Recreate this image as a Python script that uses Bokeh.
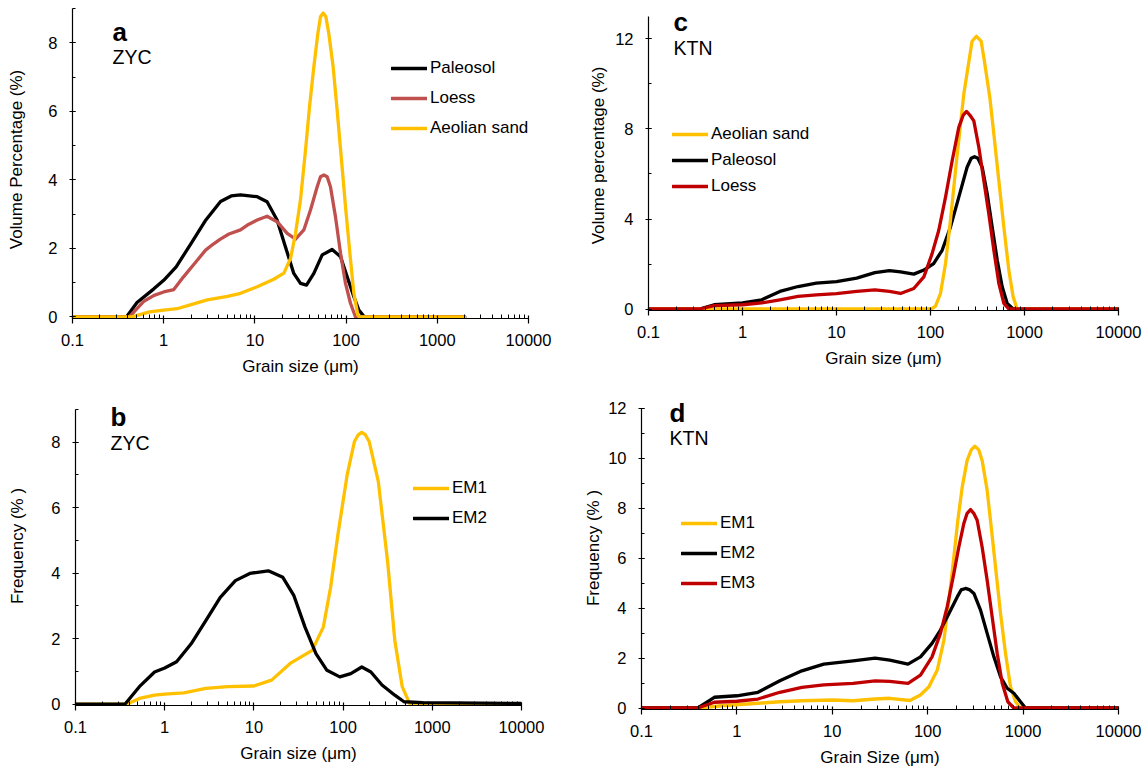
from bokeh.plotting import figure
from bokeh.models import (Range1d, FixedTicker, SingleIntervalTicker, CustomJSTickFormatter,
                          Legend, LegendItem, Label)
from bokeh.layouts import column, row
from bokeh.embed import file_html
from bokeh.resources import INLINE

# ---------------- data ----------------
# Panel a, ZYC
a_x_paleo = [0.1, 0.39, 0.51, 0.78, 1.0, 1.37, 2.0, 2.9, 4.2, 5.5, 6.95, 10.6, 13.6, 17.5, 21.6, 26.7, 31.6, 36.8, 44.3, 54.7, 70.3, 86.9, 102.8, 121.6, 138, 159, 2000]
a_y_paleo = [0, 0, 0.42, 0.82, 1.07, 1.46, 2.15, 2.83, 3.37, 3.53, 3.56, 3.51, 3.36, 2.83, 2.05, 1.27, 0.98, 0.93, 1.27, 1.81, 1.97, 1.76, 1.17, 0.59, 0.2, 0, 0]
a_x_loess = [0.1, 0.42, 0.6, 0.785, 1.0, 1.29, 1.65, 2.18, 2.88, 3.47, 4.18, 5.2, 6.95, 8.5, 10.6, 13.6, 17.5, 22.6, 27.9, 34.4, 40.7, 48.2, 52.4, 57, 62, 67.4, 76.5, 86.9, 98.5, 111.7, 126.7, 2000]
a_y_loess = [0, 0, 0.45, 0.63, 0.73, 0.8, 1.17, 1.56, 1.95, 2.12, 2.27, 2.42, 2.54, 2.7, 2.83, 2.94, 2.78, 2.44, 2.27, 2.54, 3.12, 3.8, 4.09, 4.14, 4.09, 3.8, 2.92, 1.86, 0.98, 0.4, 0, 0]
a_x_aeol = [0.1, 0.45, 0.7, 1.0, 1.4, 2.0, 3.0, 5.0, 6.95, 10.6, 16.1, 20.8, 24.6, 27.9, 31.6, 35.9, 39.7, 44.3, 49, 52.4, 56.1, 60, 64.6, 72.1, 79.8, 89, 98.5, 110, 121.6, 134.4, 140, 2000]
a_y_aeol = [0, 0, 0.15, 0.2, 0.24, 0.36, 0.5, 0.6, 0.69, 0.88, 1.1, 1.28, 1.71, 2.44, 3.41, 4.87, 6.13, 7.3, 8.27, 8.76, 8.87, 8.76, 8.27, 7.3, 6.03, 4.58, 3.22, 1.86, 0.69, 0.06, 0, 0]

# Panel b, ZYC end members
b_x_em1 = [0.1, 0.38, 0.52, 0.77, 1.0, 1.64, 2.89, 5.1, 10, 15.8, 25.5, 45, 60, 72.4, 87.5, 111, 134, 147.5, 162, 178, 196, 248, 315, 380, 460, 556, 10000]
b_y_em1 = [0, 0, 0.17, 0.27, 0.3, 0.34, 0.48, 0.53, 0.55, 0.73, 1.24, 1.64, 2.35, 3.56, 5.18, 7.0, 8.02, 8.22, 8.3, 8.22, 8.02, 6.8, 4.37, 1.94, 0.53, 0.02, 0]
b_x_em2 = [0.1, 0.36, 0.52, 0.77, 1.0, 1.36, 1.98, 2.89, 4.2, 6.2, 9.0, 14.5, 21.1, 28.1, 37.4, 49.6, 65.9, 91.8, 122, 162, 205, 273, 380, 482, 774, 10000]
b_y_em2 = [0, 0, 0.53, 0.98, 1.1, 1.29, 1.84, 2.55, 3.26, 3.77, 3.99, 4.07, 3.87, 3.31, 2.35, 1.54, 1.03, 0.83, 0.93, 1.13, 0.98, 0.58, 0.27, 0.07, 0.04, 0.02]

# Panel c, KTN
c_x_aeol = [0.1, 101.6, 113, 127.7, 144.5, 163, 184.5, 205, 226, 256, 277, 308, 346, 375, 428, 472, 533, 603, 681, 757, 835, 10000]
c_y_aeol = [0, 0, 0.13, 0.69, 2.02, 3.94, 6.15, 7.92, 9.54, 11.0, 11.9, 12.12, 11.9, 11.0, 9.39, 7.77, 5.71, 3.64, 1.73, 0.54, 0, 0]
c_x_paleo = [0.1, 0.35, 0.5, 1.0, 1.6, 2.5, 3.9, 6.1, 10, 16.4, 25.6, 36.6, 48, 66.4, 85, 108, 133, 163, 200, 245, 271, 294, 319, 355, 401, 453, 513, 579, 655, 757, 10000]
c_y_paleo = [0, 0, 0.19, 0.27, 0.41, 0.78, 1.0, 1.15, 1.22, 1.37, 1.62, 1.71, 1.65, 1.55, 1.73, 2.02, 2.61, 3.64, 4.97, 6.3, 6.7, 6.77, 6.7, 6.3, 5.12, 3.64, 2.17, 0.99, 0.25, 0, 0]
c_x_loess = [0.1, 0.35, 0.5, 1.0, 1.6, 2.5, 3.9, 6.1, 10, 16.4, 25.6, 36.6, 48, 66.4, 85, 104, 122.5, 144.5, 170, 200, 223, 241.5, 262, 289, 327, 369, 417, 472, 533, 603, 681, 10000]
c_y_loess = [0, 0, 0.15, 0.19, 0.27, 0.41, 0.56, 0.63, 0.68, 0.78, 0.85, 0.78, 0.69, 0.91, 1.43, 2.46, 3.5, 4.97, 6.59, 8.07, 8.62, 8.78, 8.62, 8.36, 7.18, 5.71, 4.23, 2.61, 1.14, 0.25, 0, 0]

# Panel d, KTN end members
d_x_em1 = [0.1, 0.40, 0.69, 1.0, 1.66, 2.82, 4.8, 10, 16.5, 28.1, 40, 65, 84, 103, 126, 148, 167, 188, 207, 230, 259, 286, 312, 343, 372, 420, 463, 514, 580, 654, 738, 832, 939, 10000]
d_y_em1 = [0, 0, 0.09, 0.13, 0.19, 0.25, 0.29, 0.32, 0.29, 0.36, 0.39, 0.3, 0.52, 0.85, 1.52, 2.72, 4.32, 6.05, 7.52, 8.85, 9.92, 10.34, 10.49, 10.34, 9.92, 8.72, 7.25, 5.65, 3.79, 2.19, 0.85, 0.25, 0, 0]
d_x_em2 = [0.1, 0.39, 0.58, 1.0, 1.66, 2.82, 4.8, 8.15, 16.5, 28.1, 40, 62.2, 84, 111, 136, 167, 204, 224, 249, 277, 305, 358, 420, 494, 580, 681, 800, 939, 1059, 10000]
d_y_em2 = [0, 0, 0.43, 0.49, 0.63, 1.09, 1.49, 1.76, 1.89, 2.0, 1.92, 1.76, 2.05, 2.59, 3.12, 3.79, 4.45, 4.73, 4.79, 4.73, 4.59, 3.92, 2.99, 2.05, 1.25, 0.79, 0.59, 0.25, 0, 0]
d_x_em3 = [0.1, 0.39, 0.58, 1.0, 1.66, 2.82, 4.8, 8.15, 16.5, 28.1, 40, 62.2, 84, 111, 136, 160, 188, 212, 239, 259, 281, 304, 330, 372, 420, 474, 535, 604, 692, 800, 10000]
d_y_em3 = [0, 0, 0.23, 0.27, 0.36, 0.63, 0.83, 0.93, 0.99, 1.09, 1.07, 0.99, 1.32, 2.05, 2.99, 4.05, 5.39, 6.45, 7.39, 7.8, 7.95, 7.8, 7.52, 6.45, 5.12, 3.65, 2.19, 0.99, 0.25, 0, 0]

x_major = [0.1, 1, 10, 100, 1000, 10000]

BLACK = "#000000"
GOLD = "#FFC000"
BROWN = "#C0504D"
RED = "#C00000"
FONT = "Liberation Sans"

x_minor = [k * 10.0 ** d for d in range(-1, 4) for k in range(2, 10)]

FIG_W = 573
FIG_H = 386


def make_panel(ymin, yend, ytop, yint, xlabel, ylabel, borders, y_title_standoff):
    bl, br, bb = borders
    p = figure(width=FIG_W, height=FIG_H, x_axis_type="log",
               x_range=Range1d(0.1, 10000), y_range=Range1d(ymin, yend),
               output_backend="svg", toolbar_location=None,
               min_border_left=bl, min_border_right=br,
               min_border_top=0, min_border_bottom=bb)
    p.outline_line_color = None
    p.xgrid.visible = False
    p.ygrid.visible = False
    p.background_fill_color = "white"
    p.border_fill_color = "white"

    xa = p.xaxis[0]
    xa.ticker = FixedTicker(ticks=x_major, minor_ticks=x_minor)
    xa.formatter = CustomJSTickFormatter(code="return String(tick);")
    ya = p.yaxis[0]
    ya.ticker = SingleIntervalTicker(interval=yint, num_minor_ticks=2)
    ya.bounds = (ymin, ytop)

    for ax in (xa, ya):
        ax.axis_line_color = "black"
        ax.axis_line_width = 1.2
        ax.major_tick_line_color = "black"
        ax.minor_tick_line_color = "black"
        ax.major_tick_line_width = 1.2
        ax.minor_tick_line_width = 1.0
        ax.major_label_text_font = FONT
        ax.major_label_text_font_size = "16.5px"
        ax.major_label_text_color = "black"
        ax.axis_label_text_font = FONT
        ax.axis_label_text_font_size = "17px"
        ax.axis_label_text_font_style = "normal"
        ax.axis_label_text_color = "black"
    xa.major_tick_in = 3
    xa.major_tick_out = 5
    xa.minor_tick_in = 4
    xa.minor_tick_out = 0
    ya.major_tick_in = 3
    ya.major_tick_out = 3
    ya.minor_tick_in = 3
    ya.minor_tick_out = 0
    xa.major_label_standoff = 10
    ya.major_label_standoff = 12
    xa.axis_label = xlabel
    ya.axis_label = ylabel
    xa.axis_label_standoff = 8
    ya.axis_label_standoff = y_title_standoff
    return p


def add_line(p, xs, ys, color):
    return p.line(xs, ys, line_color=color, line_width=3.3, line_join="round", line_cap="round")


def add_legend(p, items, loc, spacing):
    lg = Legend(items=[LegendItem(label=t, renderers=[r]) for t, r in items],
                location=loc, orientation="vertical",
                border_line_color=None, background_fill_alpha=0,
                padding=0, margin=0, spacing=spacing,
                glyph_width=36, glyph_height=22, label_height=22,
                label_standoff=3, label_text_font=FONT,
                label_text_font_size="17px", label_text_color="black")
    p.add_layout(lg)


def add_titles(p, letter, site, lx, ly, sy):
    p.add_layout(Label(x=lx, y=ly, x_units="screen", y_units="screen", text=letter,
                       text_font=FONT, text_font_size="26px", text_font_style="bold",
                       text_color="black", text_baseline="middle"))
    p.add_layout(Label(x=lx, y=sy, x_units="screen", y_units="screen", text=site,
                       text_font=FONT, text_font_size="19.5px",
                       text_color="black", text_baseline="middle"))


# ---- panel a ----
pa = make_panel(-0.045, 9.234, 9, 2, "Grain size (μm)", "Volume Percentage (%)", (72, 45, 68), 19)
ra1 = add_line(pa, a_x_paleo, a_y_paleo, BLACK)
ra2 = add_line(pa, a_x_loess, a_y_loess, BROWN)
ra3 = add_line(pa, a_x_aeol, a_y_aeol, GOLD)
add_legend(pa, [("Paleosol", ra1), ("Loess", ra2), ("Aeolian sand", ra3)], (319, 179), 8)
add_titles(pa, "a", "ZYC", 40, 287, 262)

# ---- panel c ----
pc = make_panel(-0.066, 13.71, 13, 4, "Grain size (μm)", "Volume percentage (%)", (75, 28, 76), 4)
rc1 = add_line(pc, c_x_paleo, c_y_paleo, BLACK)
rc2 = add_line(pc, c_x_aeol, c_y_aeol, GOLD)
rc3 = add_line(pc, c_x_loess, c_y_loess, RED)
add_legend(pc, [("Aeolian sand", rc2), ("Paleosol", rc1), ("Loess", rc3)], (24, 113), 4)
add_titles(pc, "c", "KTN", 25, 289, 263)

# ---- panel b ----
pb = make_panel(-0.045, 9.7, 9, 2, "Grain size (μm)", "Frequency (% )", (75, 52, 67), 21)
rb1 = add_line(pb, b_x_em1, b_y_em1, GOLD)
rb2 = add_line(pb, b_x_em2, b_y_em2, BLACK)
add_legend(pb, [("EM1", rb1), ("EM2", rb2)], (338, 176), 8)
add_titles(pb, "b", "ZYC", 35, 289, 263)

# ---- panel d ----
pd_ = make_panel(-0.06, 12.88, 12, 2, "Grain Size (μm)", "Frequency (% )", (68, 28, 63), 2)
rd1 = add_line(pd_, d_x_em1, d_y_em1, GOLD)
rd2 = add_line(pd_, d_x_em2, d_y_em2, BLACK)
rd3 = add_line(pd_, d_x_em3, d_y_em3, RED)
add_legend(pd_, [("EM1", rd1), ("EM2", rd2), ("EM3", rd3)], (40, 115), 8)
add_titles(pd_, "d", "KTN", 28, 297, 272)

layout = column(row(column(pa), column(pc)), row(column(pb), column(pd_)))

open("out.html", "w").write(file_html(layout, INLINE))
